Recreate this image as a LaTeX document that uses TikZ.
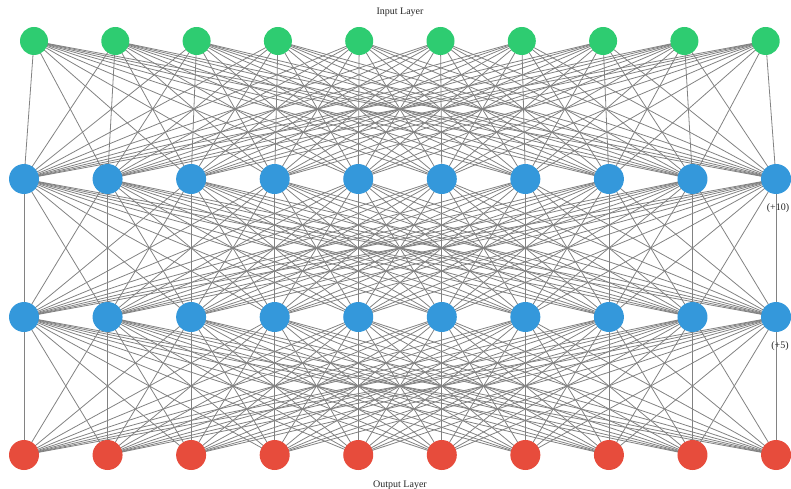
\documentclass[tikz,border=0pt]{standalone}
\usepackage{fontspec}
\setmainfont{Liberation Serif}
\usetikzlibrary{backgrounds}
\definecolor{ingreen}{HTML}{2ECC71}
\definecolor{hidblue}{HTML}{3498DB}
\definecolor{outred}{HTML}{E74C3C}
\definecolor{edgegray}{HTML}{828282}

\begin{document}
\begin{tikzpicture}[
  x=1pt, y=-1pt,
  inneuron/.style={circle, fill=ingreen, minimum size=28pt, inner sep=0pt},
  hidneuron/.style={circle, fill=hidblue, minimum size=30pt, inner sep=0pt},
  outneuron/.style={circle, fill=outred, minimum size=30pt, inner sep=0pt},
  conn/.style={edgegray, line width=0.8pt},
  lbl/.style={font=\fontsize{10}{12}\selectfont, text=black!85},
]

% Canvas
\useasboundingbox (0,0) rectangle (791,489);

% =============================================
% Neurons
% =============================================
\foreach \i in {1,...,10} {
  \node[inneuron] (in\i) at ({34+81.3*(\i-1)},41) {};
  \node[hidneuron] (ha\i) at ({24+83.56*(\i-1)},179) {};
  \node[hidneuron] (hb\i) at ({24+83.56*(\i-1)},317) {};
  \node[outneuron] (out\i) at ({24+83.56*(\i-1)},455) {};
}

% =============================================
% Connections (fully connected, behind neurons)
% =============================================
\begin{pgfonlayer}{background}
\foreach \i in {1,...,10} {
  \foreach \j in {1,...,10} {
    \draw[conn] (in\i.center) -- (ha\j.center);
    \draw[conn] (ha\i.center) -- (hb\j.center);
    \draw[conn] (hb\i.center) -- (out\j.center);
  }
}
\end{pgfonlayer}

% Layer labels
\node[lbl] (intitle) at (400,12.5) {Input Layer};
\node[lbl] (outtitle) at (400,485) {Output Layer};
\node[lbl] (moreA) at (778,208) {(+10)};
\node[lbl] (moreB) at (780,346) {(+5)};

\end{tikzpicture}
\end{document}
